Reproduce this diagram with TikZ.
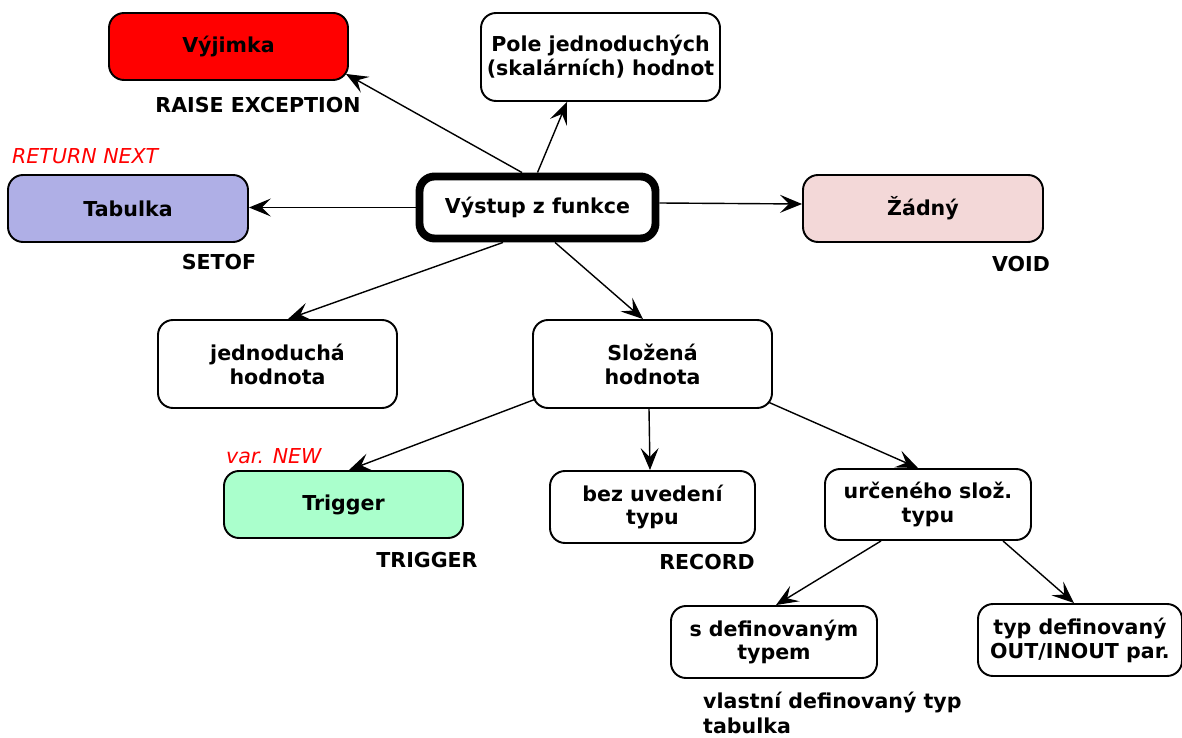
\documentclass[tikz,border=0pt]{standalone}
\usepackage{fontspec}
\setmainfont{DejaVu Sans}[BoldFont=DejaVu Sans Bold, ItalicFont=DejaVu Sans Oblique]
\usetikzlibrary{arrows.meta}

\def\diafont{\fontsize{11.7}{13.6}\selectfont}

\tikzset{
  box/.style={draw, rounded corners=0.3cm, line width=1.1pt, align=center, inner sep=2pt,
    font=\diafont\bfseries, minimum width=4.78cm, minimum height=1.34cm},
  tall/.style={minimum height=1.76cm},
  small/.style={minimum width=4.1cm, minimum height=1.44cm},
  arr/.style={-{Stealth[length=4.4mm, width=3.6mm, inset=1.8mm]}, line width=0.8pt},
  tag/.style={font=\diafont\bfseries},
  note/.style={anchor=west, text=red, font=\diafont\itshape},
}
\definecolor{tabcol}{RGB}{175,175,230}
\definecolor{voidcol}{RGB}{243,216,216}
\definecolor{trigcol}{RGB}{170,255,204}

\begin{document}
\begin{tikzpicture}
\useasboundingbox (0,0) rectangle (23.64,-14.76);

% the boxes
\node[box, line width=4.5pt, minimum width=4.72cm, minimum height=1.24cm] (vystup) at (10.75,-4.15) {Výstup z funkce};
\node[box, fill=red] (vyjimka) at (4.57,-0.93) {Výjimka};
\node[box, tall] (pole) at (12.01,-1.14) {Pole jednoduchých\\(skalárních) hodnot};
\node[box, fill=tabcol, minimum width=4.8cm] (tabulka) at (2.56,-4.17) {Tabulka};
\node[box, fill=voidcol, minimum width=4.8cm] (zadny) at (18.46,-4.17) {Žádný};
\node[box, tall] (jednoducha) at (5.55,-7.28) {jednoduchá\\hodnota};
\node[box, tall] (slozena) at (13.05,-7.28) {Složená\\hodnota};
\node[box, fill=trigcol] (trigger) at (6.87,-10.09) {Trigger};
\node[box, small] (bez) at (13.05,-10.14) {bez uvedení\\typu};
\node[box, small, minimum width=4.12cm, minimum height=1.42cm] (urceneho) at (18.56,-10.09) {určeného slož.\\typu};
\node[box, small, minimum width=4.12cm] (sdef) at (15.48,-12.84) {s definovaným\\typem};
\node[box, small, minimum width=4.08cm] (typdef) at (21.6,-12.8) {typ definovaný\\OUT/INOUT par.};

% keywords
\node[tag] (raise) at (5.16,-2.1) {RAISE EXCEPTION};
\node[note] (retnext) at (0.12,-3.12) {RETURN NEXT};
\node[tag] (setof) at (4.38,-5.24) {SETOF};
\node[tag] (void) at (20.42,-5.28) {VOID};
\node[note] (varnew) at (4.4,-9.12) {var. NEW};
\node[tag] (trig) at (8.54,-11.2) {TRIGGER};
\node[tag] (record) at (14.14,-11.24) {RECORD};
\node[tag, anchor=west, align=left] (vlastni) at (13.94,-14.26) {vlastní definovaný typ\\[1pt]tabulka};

% arrows
\draw[arr] ([xshift=-0.31cm]vystup.north) -- ([xshift=-0.06cm,yshift=0.14cm]vyjimka.south east);
\draw[arr] (vystup.north) -- ([xshift=-0.67cm]pole.south);
\draw[arr] (vystup.west) -- (vystup.west -| tabulka.east);
\draw[arr] ([yshift=0.09cm]vystup.east) -- ([yshift=0.09cm]zadny.west);
\draw[arr] ([xshift=-0.69cm]vystup.south) -- ([xshift=0.21cm]jednoducha.north);
\draw[arr] ([xshift=0.35cm]vystup.south) -- ([xshift=-0.19cm]slozena.north);
\draw[arr] ([xshift=0.08cm,yshift=0.2cm]slozena.south west) -- ([xshift=0.11cm]trigger.north);
\draw[arr] ([xshift=-0.07cm]slozena.south) -- ([xshift=-0.05cm]bez.north);
\draw[arr] ([xshift=-0.1cm,yshift=0.14cm]slozena.south east) -- ([xshift=-0.2cm]urceneho.north);
\draw[arr] ([xshift=-0.94cm]urceneho.south) -- ([xshift=0.04cm]sdef.north);
\draw[arr] ([xshift=1.5cm]urceneho.south) -- ([xshift=-0.12cm]typdef.north);
\end{tikzpicture}
\end{document}
